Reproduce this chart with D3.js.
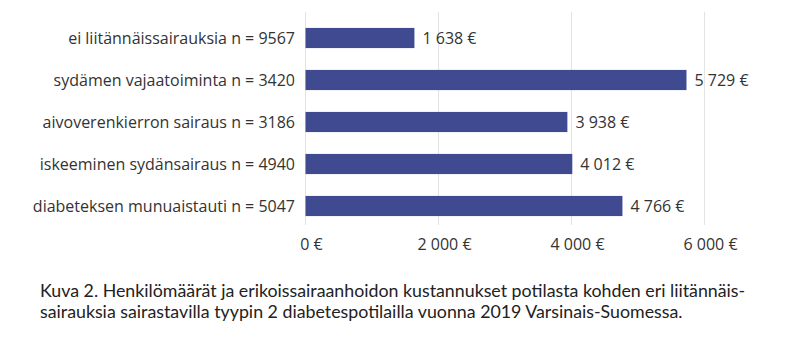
<!DOCTYPE html>
<html>
<head>
<meta charset="utf-8">
<script src="https://cdn.jsdelivr.net/npm/d3@7"></script>
<style>
  body { margin: 0; background: #fff; }
  svg { display: block; }
  text { font-family: "Open Sans", "Noto Sans", sans-serif; fill: #333; }
  .caption { font-family: Lato, sans-serif; }
</style>
</head>
<body>
<svg width="800" height="352"></svg>
<script>
// Data
const categories = [
  "ei liitännäissairauksia n = 9567",
  "sydämen vajaatoiminta n = 3420",
  "aivoverenkierron sairaus n = 3186",
  "iskeeminen sydänsairaus n = 4940",
  "diabeteksen munuaistauti n = 5047"
];
const costs = [1638, 5729, 3938, 4012, 4766];
const xTicks = [0, 2000, 4000, 6000];
const captionLines = [
  "Kuva 2. Henkilömäärät ja erikoissairaanhoidon kustannukset potilasta kohden eri liitännäis-",
  "sairauksia sairastavilla tyypin 2 diabetespotilailla vuonna 2019 Varsinais-Suomessa."
];

const fi = d3.formatLocale({ decimal: ",", thousands: "\u00a0", grouping: [3], currency: ["", "\u00a0€"] });
const fmt = fi.format("$,.0f");

const svg = d3.select("svg");

const x = d3.scaleLinear().domain([0, 6000]).range([305.5, 704.5]);
const y = d3.scaleBand().domain(categories).range([17, 227]).paddingInner(0.52).paddingOuter(0.26);

// Grid lines
svg.selectAll(".grid")
    .data(xTicks)
    .enter().append("line")
    .attr("class", "grid")
    .attr("x1", d => x(d)).attr("x2", d => x(d))
    .attr("y1", 12).attr("y2", 225)
    .attr("stroke", "#e3e3e3")
    .attr("stroke-width", 1);

// Bars
svg.selectAll(".bar")
    .data(costs)
    .enter().append("rect")
    .attr("class", "bar")
    .attr("x", x(0))
    .attr("y", (d, i) => y(categories[i]))
    .attr("width", d => x(d) - x(0))
    .attr("height", y.bandwidth())
    .attr("fill", "#3f4a91");

// Value labels
svg.selectAll(".val")
    .data(costs)
    .enter().append("text")
    .attr("class", "val")
    .attr("x", d => x(d) + 8)
    .attr("y", (d, i) => y(categories[i]) + y.bandwidth() / 2)
    .attr("dy", "0.35em")
    .attr("font-size", 16)
    .text(d => fmt(d));

// Category labels
svg.selectAll(".cat")
    .data(categories)
    .enter().append("text")
    .attr("class", "cat")
    .attr("x", 295)
    .attr("y", d => y(d) + y.bandwidth() / 2)
    .attr("dy", "0.35em")
    .attr("text-anchor", "end")
    .attr("font-size", 16)
    .text(d => d);

// X axis tick labels
svg.selectAll(".tick-label")
    .data(xTicks)
    .enter().append("text")
    .attr("class", "tick-label")
    .attr("x", d => x(d) + 6)
    .attr("y", 244.5)
    .attr("dy", "0.35em")
    .attr("text-anchor", "middle")
    .attr("font-size", 16)
    .text(d => fmt(d));

// Caption
svg.selectAll(".caption")
    .data(captionLines)
    .enter().append("text")
    .attr("class", "caption")
    .attr("x", 40)
    .attr("y", (d, i) => 290.5 + i * 21)
    .attr("dy", "0.35em")
    .attr("font-size", 17.8)
    .style("fill", "#222")
    .text(d => d);
</script>
</body>
</html>
